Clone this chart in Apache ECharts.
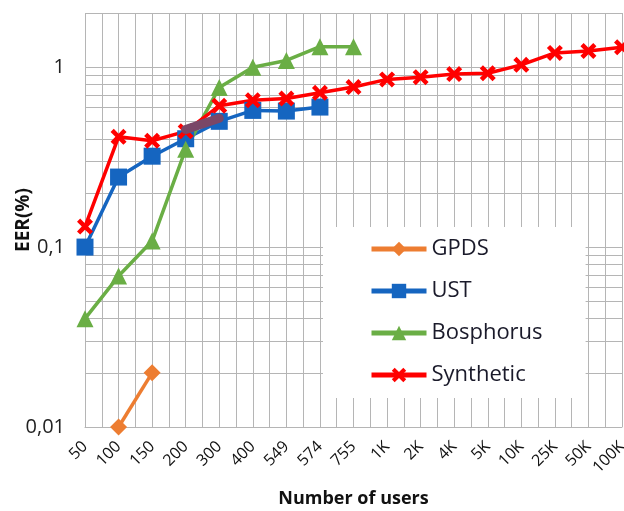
<!DOCTYPE html>
<html>
<head>
<meta charset="utf-8">
<script src="https://cdn.jsdelivr.net/npm/echarts@6/dist/echarts.min.js"></script>
<style>html,body{margin:0;padding:0;background:#fff}#c{width:624px;height:511px}</style>
</head>
<body>
<div id="c"></div>
<script>
const categories = ['50','100','150','200','300','400','549','574','755','1K','2K','4K','5K','10K','25K','50K','100K'];
const gpds      = [null, 0.01, 0.02, null, null, null, null, null, null, null, null, null, null, null, null, null, null];
const ust       = [0.1, 0.245, 0.32, 0.4, 0.5, 0.575, 0.57, 0.6, null, null, null, null, null, null, null, null, null];
const bosphorus = [0.04, 0.069, 0.108, 0.35, 0.77, 1.0, 1.09, 1.3, 1.3, null, null, null, null, null, null, null, null];
const synthetic = [0.13, 0.41, 0.39, 0.44, 0.61, 0.655, 0.67, 0.72, 0.775, 0.855, 0.88, 0.915, 0.925, 1.03, 1.2, 1.23, 1.29];
const blemish   = [null, null, null, 0.45, 0.52, null, null, null, null, null, null, null, null, null, null, null, null];
const yTicks = [0.01, 0.1, 1];
const yTickLabels = ['0,01', '0,1', '1'];
const minorY = [0.02,0.03,0.04,0.05,0.06,0.07,0.08,0.09,0.2,0.3,0.4,0.5,0.6,0.7,0.8,0.9,2];

const gridColor = '#b5b5b5';
const crossPath = 'path://M2,0 L5,3 L8,0 L10,2 L7,5 L10,8 L8,10 L5,7 L2,10 L0,8 L3,5 L0,2 Z';
const font = 'Open Sans';

const chart = echarts.init(document.getElementById('c'));
function line(name, data, color, symbol, size) {
  return {
    name, type: 'line', data, xAxisIndex: 0, yAxisIndex: 0,
    symbol, symbolSize: size, connectNulls: false,
    lineStyle: { color, width: 3.5 },
    itemStyle: { color },
    z: 5
  };
}
chart.setOption({
  animation: false,
  backgroundColor: '#fff',
  grid: { left: 85, right: 2, top: 13, bottom: 84, outerBoundsMode: 'none', containLabel: false },
  legend: {
    orient: 'vertical', left: 323, top: 227,
    padding: [11, 43, 12, 46],
    backgroundColor: '#fff',
    itemWidth: 55, itemHeight: 18, itemGap: 20,
    lineStyle: { width: 5 },
    textStyle: { fontFamily: font, fontSize: 22, color: '#1a1a2a', lineHeight: 18 },
    data: ['GPDS', 'UST', 'Bosphorus', 'Synthetic'],
    z: 10
  },
  xAxis: [{
    type: 'category', data: categories, boundaryGap: false,
    axisLine: { show: true, lineStyle: { color: gridColor } },
    axisTick: { show: false },
    splitLine: { show: false },
    axisLabel: { rotate: 45, interval: 0, fontFamily: font, fontSize: 16, color: '#111', margin: 17 },
    name: 'Number of users', nameLocation: 'middle', nameGap: 63, nameMoveOverlap: false,
    nameTextStyle: { fontFamily: font, fontSize: 18, fontWeight: 'bold', color: '#111' }
  }, {
    type: 'value', min: 0, max: 16, interval: 0.5, show: true, position: 'bottom',
    axisLine: { show: false }, axisTick: { show: false }, axisLabel: { show: false },
    splitLine: { show: true, lineStyle: { color: gridColor, width: 1 } }
  }],
  yAxis: {
    type: 'log', logBase: 10, min: 0.01, max: 2,
    axisLine: { show: false }, axisTick: { show: false },
    splitLine: { show: true, lineStyle: { color: gridColor, width: 1 } },
    axisLabel: {
      fontFamily: font, fontSize: 20, color: '#222', margin: 20,
      formatter: v => { const i = yTicks.findIndex(t => Math.abs(t - v) / t < 1e-6); return i >= 0 ? yTickLabels[i] : ''; }
    },
    name: 'EER(%)', nameLocation: 'middle', nameGap: 52, nameRotate: 90, nameMoveOverlap: false,
    nameTextStyle: { fontFamily: font, fontSize: 19, fontWeight: 'bold', color: '#111' }
  },
  series: [
    {
      name: 'grid', type: 'line', data: [], xAxisIndex: 0, yAxisIndex: 0, silent: true,
      markLine: {
        silent: true, symbol: 'none', label: { show: false },
        lineStyle: { color: gridColor, type: 'solid', width: 1 },
        data: minorY.map(v => ({ yAxis: v }))
      }, z: 1
    },
    line('GPDS', gpds, '#ED7D31', 'diamond', 17),
    line('UST', ust, '#1565C0', 'rect', 17),
    line('Bosphorus', bosphorus, '#6AAE45', 'triangle', 17),
    line('Synthetic', synthetic, '#FF0000', crossPath, 16),
    { name: 'blemish', type: 'line', data: blemish, symbol: 'none', lineStyle: { color: '#7a4767', width: 9, cap: 'round' }, z: 6 }
  ]
});
</script>
</body>
</html>
